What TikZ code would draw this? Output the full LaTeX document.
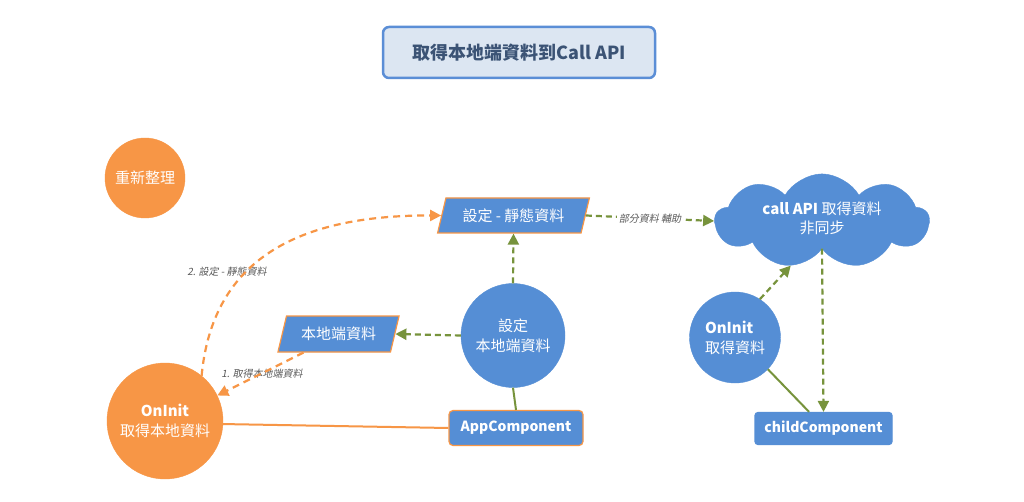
\documentclass[tikz,border=0pt]{standalone}
\usepackage{fontspec}
\setmainfont{Noto Sans CJK TC}
\newfontfamily\lblfont[FakeSlant=0.2]{Noto Sans CJK TC}
\usetikzlibrary{shapes.geometric,shapes.symbols,arrows.meta}
\definecolor{ora}{HTML}{F79646}
\definecolor{blu}{HTML}{558ED5}
\definecolor{grn}{HTML}{77933C}
\definecolor{ttlfill}{HTML}{DCE6F2}
\definecolor{ttlline}{HTML}{5B8ED6}
\definecolor{ttltext}{HTML}{3B5375}
\definecolor{lblc}{HTML}{595959}
\begin{document}
\begin{tikzpicture}[x=1pt,y=-1pt,
  txt/.style={text=white,font=\fontsize{15}{20}\selectfont,align=center},
  ocirc/.style={txt,circle,fill=ora,draw=ora,inner sep=0pt},
  bcirc/.style={txt,circle,fill=blu,draw=blu,inner sep=0pt},
  para/.style={txt,trapezium,trapezium left angle=70,trapezium right angle=110,
    trapezium stretches=true,fill=blu,draw=ora,line width=1.2pt,inner sep=2pt},
  comp/.style={txt,font=\bfseries\fontsize{14}{17}\selectfont,rectangle,rounded corners=4pt,fill=blu,line width=1.2pt,inner sep=2pt},
  lbl/.style={text=lblc,font=\lblfont\fontsize{10}{12}\selectfont,inner sep=1pt},
  gdash/.style={draw=grn,line width=2.2pt,dash pattern=on 6pt off 4pt,-{Triangle[length=11pt,width=11pt]}},
  odash/.style={draw=ora,line width=2.2pt,dash pattern=on 7pt off 5pt,-{Triangle[length=11pt,width=11pt]}},
  gline/.style={draw=grn,line width=2pt},
  oline/.style={draw=ora,line width=2pt}
]
\useasboundingbox[fill=white] (0,0) rectangle (1024,502);

% title
\node[rectangle,rounded corners=6pt,fill=ttlfill,draw=ttlline,line width=2.5pt,
  minimum width=272pt,minimum height=51pt,text=ttltext,
  font=\bfseries\fontsize{18}{21}\selectfont] (title) at (519,52.5) {取得本地端資料到Call API};

% nodes
\node[ocirc,minimum size=80pt] (refresh) at (145,178) {重新整理};
\node[para,minimum width=152pt,minimum height=35pt] (static) at (513.5,215.5) {設定 - 靜態資料};
\node[cloud,cloud puffs=9,cloud puff arc=120,aspect=2.6,fill=blu,draw=blu,
  minimum width=214pt,minimum height=84pt,txt,inner sep=0pt] (cloud) at (822,221)
  {\raisebox{6pt}{\shortstack{\textbf{call API} 取得資料\\[2pt]非同步}}};
\node[para,minimum width=122pt,minimum height=36pt] (local) at (338.5,334) {本地端資料};
\node[bcirc,minimum size=104pt] (setlocal) at (513,335.5) {設定\\本地端資料};
\node[comp,draw=ora,minimum width=134pt,minimum height=35pt] (app) at (516,428) {AppComponent};
\node[ocirc,minimum size=116pt] (oninit) at (165,421) {\textbf{OnInit}\\取得本地資料};
\node[bcirc,minimum size=91pt,align=left] (oninitb) at (735,337.5) {\textbf{OnInit}\\取得資料};
\node[comp,draw=blu,rounded corners=3pt,minimum width=137pt,minimum height=32pt] (child) at (823.5,428.5) {childComponent};

% labels
\node[lbl] (l2) at (227,272) {2. 設定 - 靜態資料};
\node[lbl] (l1) at (262,374) {1. 取得本地端資料};

% connectors
\draw[odash] (oninit.51) .. controls (212,265) and (290,215) .. (static.west);
\draw[odash] (local.208) -- (oninit.26);
\draw[gdash] (setlocal.west) -- (local.east);
\draw[gdash] (setlocal.north) -- (static.south);
\draw[gdash] (static.east) -- node[lbl,fill=white,inner sep=2pt] (l3) {部分資料 輔助} (cloud.west);
\draw[gdash] (oninitb.57) -- (cloud.235);
\draw[gdash] (cloud.south) -- (child.north);
\draw[gline] (oninitb.-44) -- (child.131);
\draw[gline] (setlocal.south) -- (app.north);
\draw[oline] (oninit.-3) -- (app.west);
\end{tikzpicture}
\end{document}
